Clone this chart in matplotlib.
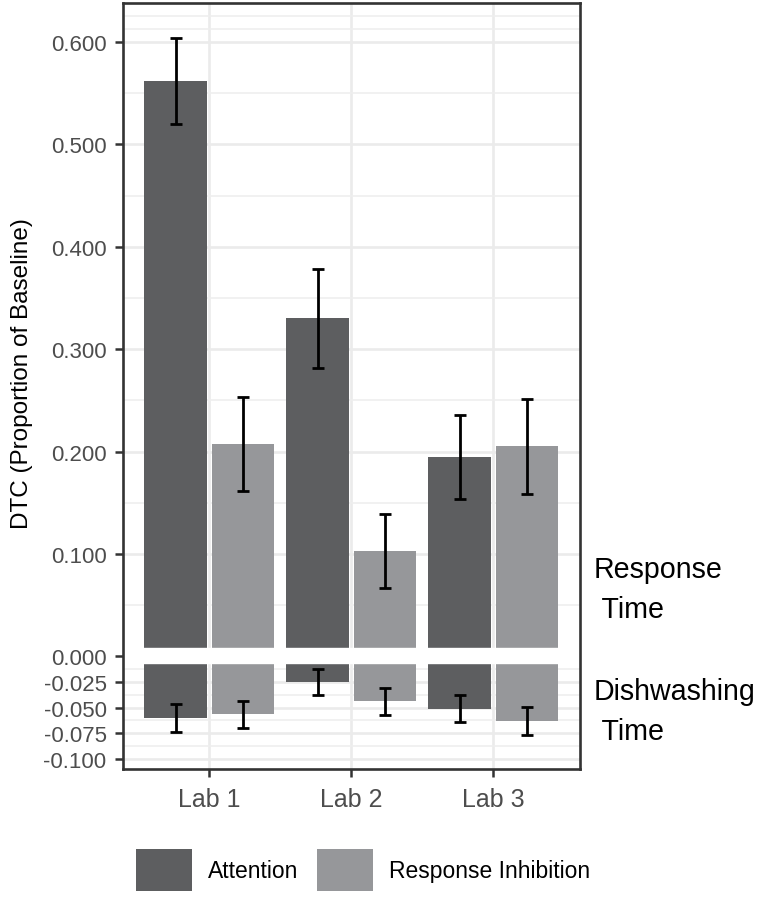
import numpy as np
import matplotlib
matplotlib.use('Agg')
import matplotlib.pyplot as plt
from matplotlib.patches import Patch

plt.rcParams['font.family'] = ['Liberation Sans', 'DejaVu Sans']
plt.rcParams['axes.unicode_minus'] = False

# values
labs = ['Lab 1', 'Lab 2', 'Lab 3']
groups = ['Attention', 'Response Inhibition']
colors = ['#5d5e60', '#96979a']

# Response Time DTC (upper part)
rt_att = [0.562, 0.330, 0.195]
rt_att_se = [0.042, 0.048, 0.041]
rt_ri = [0.207, 0.103, 0.205]
rt_ri_se = [0.046, 0.036, 0.046]

# Dishwashing Time DTC (lower part)
dw_att = [-0.0605, -0.0250, -0.0512]
dw_att_se = [0.0135, 0.0130, 0.0132]
dw_ri = [-0.0566, -0.0440, -0.0630]
dw_ri_se = [0.0132, 0.0135, 0.0134]

major_ticks = [-0.100, -0.075, -0.050, -0.025, 0.000, 0.100, 0.200, 0.300, 0.400, 0.500, 0.600]
minor_ticks = [-0.0875, -0.0625, -0.0375, -0.0125,
               0.05, 0.15, 0.25, 0.35, 0.45, 0.55, 0.6125, 0.625]

fig = plt.figure(figsize=(7.6, 9.03), dpi=100)
ax = fig.add_axes([123/760, 1 - 770/903, 457/760, 766/903])

x = np.arange(1, len(labs) + 1)
w = 0.44
off = 0.237
err_kw = dict(fmt='none', ecolor='black', elinewidth=2.0, capsize=4.6, capthick=2.0, zorder=5)

for vals, se, col, sgn in [(rt_att, rt_att_se, colors[0], -1), (rt_ri, rt_ri_se, colors[1], 1),
                           (dw_att, dw_att_se, colors[0], -1), (dw_ri, dw_ri_se, colors[1], 1)]:
    ax.bar(x + sgn * off, vals, width=w, color=col, zorder=3)
    ax.errorbar(x + sgn * off, vals, yerr=se, **err_kw)

# white break between the two measures
ax.axhspan(-0.0068, 0.0078, color='white', zorder=4)

ax.set_xlim(0.392, 3.61)
ax.set_ylim(-0.11, 0.638)
ax.set_xticks(x)
ax.set_xticklabels(labs)
ax.set_yticks(major_ticks)
ax.set_yticklabels([f'{v:.3f}' for v in major_ticks])
ax.set_yticks(minor_ticks, minor=True)

ax.grid(which='major', color='#ebebeb', lw=1.9, zorder=0)
ax.grid(which='minor', axis='y', color='#eeeeee', lw=1.1, zorder=0)
ax.set_axisbelow(True)

for sp in ax.spines.values():
    sp.set_color('#333333')
    sp.set_linewidth(1.9)
    sp.set_zorder(6)

ax.tick_params(axis='both', which='major', color='#333333', width=1.8, length=5.8,
               labelcolor='#4d4d4d')
ax.tick_params(axis='y', which='major', labelsize=16, pad=6)
ax.tick_params(axis='x', which='major', labelsize=18, pad=7)
ax.tick_params(which='minor', length=0)

ax.set_ylabel('DTC (Proportion of Baseline)', fontsize=17.5, color='black')
ax.yaxis.set_label_coords(-0.197, 0.518)

# side labels for the two parts (y = baseline of the last line)
fig.text(594/760, 1 - 618/903, 'Response\n Time', fontsize=20.6, va='baseline', ha='left',
         linespacing=1.55)
fig.text(594/760, 1 - 740/903, 'Dishwashing\n Time', fontsize=20.6, va='baseline', ha='left',
         linespacing=1.55)

handles = [Patch(facecolor=c, edgecolor='none') for c in colors]
fig.legend(handles, groups, loc='center left', bbox_to_anchor=(136/760, 1 - 871/903),
           ncol=2, frameon=False, fontsize=16.5, borderpad=0, borderaxespad=0,
           handlelength=2.45, handleheight=2.45, handletextpad=0.7, columnspacing=0.8)

fig.savefig('out.png', dpi=100, facecolor='white')
